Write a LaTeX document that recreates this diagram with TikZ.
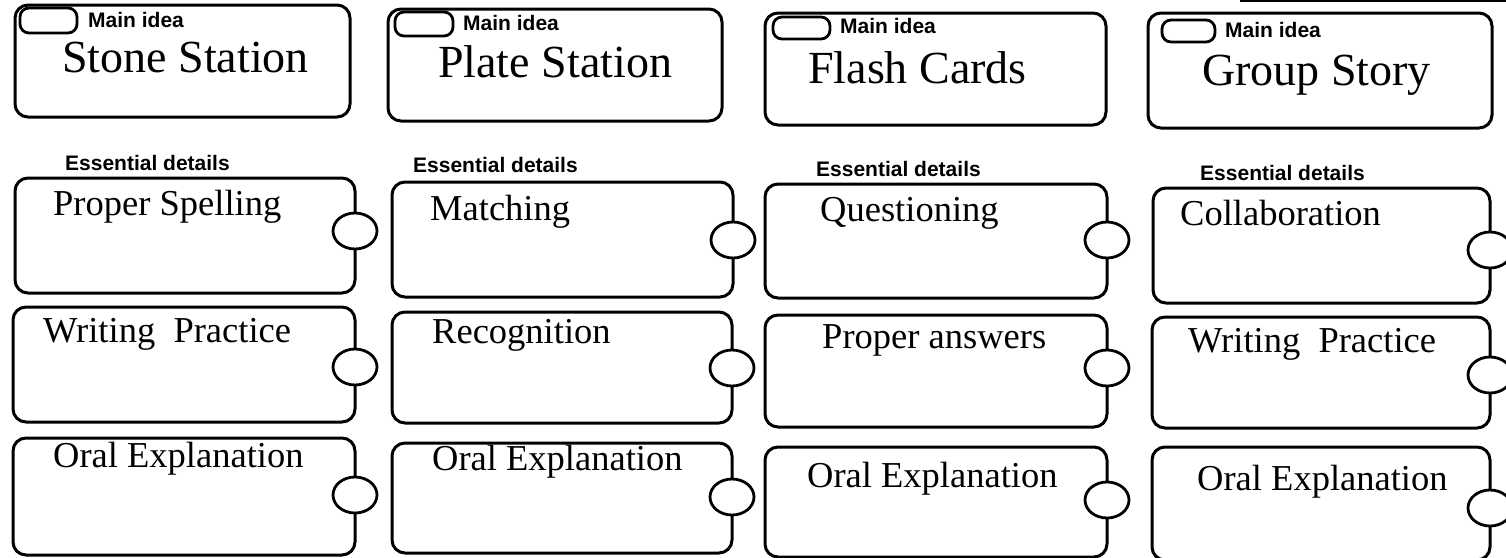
\documentclass[tikz,border=0pt]{standalone}
\usepackage{fontspec}
\setmainfont{Liberation Serif}
\newfontfamily\labelsans{Liberation Sans}
\usetikzlibrary{shapes.geometric}
\tikzset{
  cardbox/.style={draw=black, line width=3pt, rounded corners=13pt, inner sep=0pt, fill=white},
  pillbox/.style={draw=black, line width=2.8pt, rounded corners=9pt, inner sep=0pt},
  ringnode/.style={draw=black, line width=2.8pt, ellipse, fill=white, minimum width=44pt, minimum height=36pt, inner sep=0pt},
  ttltext/.style={font=\fontsize{46}{50}\selectfont, anchor=base west, inner sep=0pt},
  dtltext/.style={font=\fontsize{36.5}{40}\selectfont, anchor=base west, inner sep=0pt},
  tagtext/.style={font=\labelsans\bfseries\fontsize{21}{24}\selectfont, anchor=base west, inner sep=0pt},
}
% #1 name, #2 x1, #3 y1, #4 x2, #5 y2, #6 style
\newcommand\placebox[6]{\node[#6, minimum width={(#4-#2)*1pt}, minimum height={(#5-#3)*1pt}] (#1) at ({(#2+#4)/2},{(#3+#5)/2}) {};}
\newcommand\detailcard[9]{%
  \placebox{#1}{#2}{#3}{#4}{#5}{cardbox}
  \node[ringnode] (#1k) at (#4,#6) {};
  \node[dtltext] (#1t) at (#7,#8) {#9};
}
\begin{document}
\begin{tikzpicture}[x=1pt,y=-1pt]
\useasboundingbox (0,0) rectangle (1506,557);
\fill[white] (0,0) rectangle (1506,557);

% top-right edge line
\coordinate (edgeL) at (1240,1);
\coordinate (edgeR) at (1506,1);
\draw[line width=2pt] (edgeL) -- (edgeR);

% ---- main idea cards ----
\placebox{m1}{15}{5}{350}{117}{cardbox}
\placebox{p1}{20}{8}{77}{33}{pillbox}
\node[tagtext] (mi1) at (88,27) {Main idea};
\node[ttltext] (t1) at (62,72) {Stone Station};

\placebox{m2}{388}{9}{722}{121}{cardbox}
\placebox{p2}{395}{12}{453}{36}{pillbox}
\node[tagtext] (mi2) at (463,30) {Main idea};
\node[ttltext] (t2) at (438,77) {Plate Station};

\placebox{m3}{765}{13}{1106}{125}{cardbox}
\placebox{p3}{773}{17}{830}{39}{pillbox}
\node[tagtext] (mi3) at (840,33) {Main idea};
\node[ttltext] (t3) at (808,83) {Flash Cards};

\placebox{m4}{1148}{13}{1492}{128}{cardbox}
\placebox{p4}{1162}{20}{1215}{42}{pillbox}
\node[tagtext] (mi4) at (1225,37) {Main idea};
\node[ttltext] (t4) at (1202,85) {Group Story};

% ---- essential details labels ----
\node[tagtext] (e1) at (65,170) {Essential details};
\node[tagtext] (e2) at (413,172) {Essential details};
\node[tagtext] (e3) at (816,176) {Essential details};
\node[tagtext] (e4) at (1200,180) {Essential details};

% ---- detail cards ----
\detailcard{a1}{15}{178}{355}{293}{231}{53}{215}{Proper Spelling}
\detailcard{a2}{13}{307}{355}{422}{367}{43}{342}{Writing\ \ Practice}
\detailcard{a3}{13}{438}{355}{555}{495}{53}{467}{Oral Explanation}

\detailcard{b1}{392}{182}{733}{297}{240}{430}{220}{Matching}
\detailcard{b2}{392}{312}{732}{423}{368}{432}{343}{Recognition}
\detailcard{b3}{392}{443}{732}{553}{497}{432}{470}{Oral Explanation}

\detailcard{c1}{765}{184}{1107}{298}{240}{820}{221}{Questioning}
\detailcard{c2}{765}{315}{1107}{427}{368}{822}{348}{Proper answers}
\detailcard{c3}{765}{447}{1107}{557}{500}{807}{487}{Oral Explanation}

\detailcard{d1}{1153}{188}{1490}{303}{250}{1180}{225}{Collaboration}
\detailcard{d2}{1152}{317}{1490}{428}{375}{1188}{352}{Writing\ \ Practice}
\detailcard{d3}{1152}{447}{1490}{560}{508}{1197}{490}{Oral Explanation}
\end{tikzpicture}
\end{document}
